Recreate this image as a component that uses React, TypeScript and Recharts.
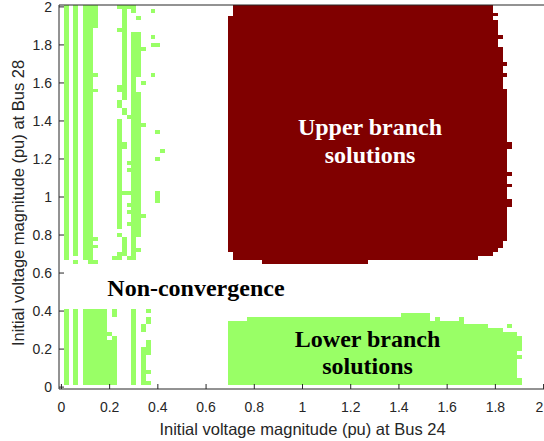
import { ReferenceArea, Scatter, ScatterChart, XAxis, YAxis } from "recharts"

// each cell block: [x1, x2, y1, y2] in pu
type Block = [number, number, number, number]

const axisTicks = [0, 0.2, 0.4, 0.6, 0.8, 1, 1.2, 1.4, 1.6, 1.8, 2]
const axisDomain: [number, number] = [-0.01, 2.01]

const upperBranchRows: Block[] = [
  [0.71, 1.79, 1.97, 2.01],
  [0.71, 1.81, 1.95, 1.97],
  [0.69, 1.79, 1.93, 1.95],
  [0.69, 1.81, 1.85, 1.93],
  [0.69, 1.83, 1.83, 1.85],
  [0.69, 1.81, 1.79, 1.83],
  [0.69, 1.83, 1.71, 1.79],
  [0.69, 1.85, 1.69, 1.71],
  [0.69, 1.83, 1.65, 1.69],
  [0.69, 1.85, 1.63, 1.65],
  [0.69, 1.83, 1.57, 1.63],
  [0.69, 1.85, 1.29, 1.57],
  [0.69, 1.87, 1.25, 1.29],
  [0.69, 1.85, 1.13, 1.25],
  [0.69, 1.87, 1.11, 1.13],
  [0.69, 1.85, 1.07, 1.11],
  [0.69, 1.87, 1.05, 1.07],
  [0.69, 1.85, 0.99, 1.05],
  [0.69, 1.87, 0.95, 0.99],
  [0.69, 1.85, 0.77, 0.95],
  [0.69, 1.83, 0.73, 0.77],
  [0.69, 1.81, 0.71, 0.73],
  [0.71, 1.79, 0.69, 0.71],
  [0.71, 1.73, 0.67, 0.69],
  [0.83, 1.27, 0.65, 0.67],
]

const lowerBranchRows: Block[] = [
  [1.41, 1.53, 0.37, 0.39],
  [0.77, 1.53, 0.35, 0.37],
  [1.55, 1.57, 0.35, 0.37],
  [1.65, 1.67, 0.35, 0.37],
  [0.69, 1.67, 0.33, 0.35],
  [0.69, 1.77, 0.31, 0.33],
  [1.85, 1.87, 0.31, 0.33],
  [0.69, 1.83, 0.29, 0.31],
  [0.69, 1.89, 0.27, 0.29],
  [0.69, 1.91, 0.19, 0.27],
  [0.69, 1.89, 0.17, 0.19],
  [0.69, 1.91, 0.15, 0.17],
  [0.69, 1.89, 0.05, 0.15],
  [0.69, 1.91, 0.01, 0.05],
]

// scattered lower-branch points at low Bus 24 voltage, upper half
const stripesHigh: Block[] = [
  [0.01, 0.03, 0.67, 2.01],
  [0.05, 0.07, 0.69, 2.01],
  [0.05, 0.07, 0.65, 0.67],
  [0.09, 0.13, 0.67, 2.01],
  [0.13, 0.15, 1.89, 2.01],
  [0.13, 0.15, 1.63, 1.65],
  [0.13, 0.15, 1.55, 1.57],
  [0.13, 0.15, 0.77, 0.79],
  [0.13, 0.15, 0.73, 0.75],
  [0.11, 0.15, 0.65, 0.67],
  [0.23, 0.31, 1.99, 2.01],
  [0.25, 0.27, 1.51, 1.99],
  [0.29, 0.31, 1.97, 1.99],
  [0.31, 0.33, 1.93, 1.95],
  [0.37, 0.39, 1.97, 1.99],
  [0.23, 0.25, 1.87, 1.89],
  [0.29, 0.31, 0.67, 1.87],
  [0.31, 0.33, 1.63, 1.87],
  [0.33, 0.35, 1.77, 1.79],
  [0.37, 0.39, 1.83, 1.85],
  [0.37, 0.41, 1.79, 1.81],
  [0.37, 0.39, 1.63, 1.65],
  [0.33, 0.35, 1.59, 1.61],
  [0.23, 0.25, 1.55, 1.59],
  [0.31, 0.33, 0.79, 1.55],
  [0.23, 0.25, 1.47, 1.51],
  [0.25, 0.27, 1.43, 1.47],
  [0.27, 0.29, 1.41, 1.43],
  [0.23, 0.25, 0.83, 1.41],
  [0.33, 0.35, 1.37, 1.39],
  [0.39, 0.41, 1.33, 1.35],
  [0.25, 0.27, 1.25, 1.29],
  [0.41, 0.43, 1.23, 1.25],
  [0.39, 0.41, 1.19, 1.21],
  [0.27, 0.29, 1.17, 1.19],
  [0.27, 0.29, 1.13, 1.15],
  [0.25, 0.29, 1.01, 1.03],
  [0.39, 0.41, 0.97, 1.03],
  [0.27, 0.29, 0.95, 0.97],
  [0.27, 0.29, 0.91, 0.93],
  [0.27, 0.29, 0.85, 0.87],
  [0.33, 0.35, 0.89, 0.91],
  [0.23, 0.25, 0.79, 0.81],
  [0.25, 0.27, 0.69, 0.79],
  [0.31, 0.33, 0.71, 0.73],
  [0.23, 0.25, 0.69, 0.71],
  [0.21, 0.25, 0.67, 0.69],
  [0.27, 0.29, 0.67, 0.69],
]

// same, lower half
const stripesLow: Block[] = [
  [0.01, 0.03, 0.01, 0.41],
  [0.05, 0.07, 0.01, 0.41],
  [0.09, 0.19, 0.29, 0.41],
  [0.09, 0.21, 0.27, 0.29],
  [0.09, 0.19, 0.25, 0.27],
  [0.21, 0.23, 0.25, 0.27],
  [0.09, 0.23, 0.01, 0.25],
  [0.21, 0.23, 0.37, 0.41],
  [0.29, 0.31, 0.01, 0.41],
  [0.35, 0.37, 0.39, 0.41],
  [0.35, 0.37, 0.33, 0.37],
  [0.33, 0.35, 0.29, 0.33],
  [0.35, 0.37, 0.21, 0.25],
  [0.33, 0.37, 0.17, 0.21],
  [0.33, 0.35, 0.01, 0.17],
  [0.35, 0.37, 0.07, 0.09],
  [0.35, 0.37, 0.01, 0.03],
]

const regionLabels = [
  { text: "Upper branch", x: 1.28, y: 1.368, color: "#ffffff" },
  { text: "solutions", x: 1.28, y: 1.221, color: "#ffffff" },
  { text: "Non-convergence", x: 0.558, y: 0.521, color: "#000000" },
  { text: "Lower branch", x: 1.27, y: 0.253, color: "#000000" },
  { text: "solutions", x: 1.27, y: 0.111, color: "#000000" },
]

const RED = "#800000"
const GREEN = "#99ff66"
const AXIS = "#262626"
const sansFont = "'Liberation Sans', Arial, Helvetica, sans-serif"
const serifFont = "'Liberation Serif', 'Times New Roman', serif"

const renderBlocks = (blocks: Block[], color: string, key: string) =>
  blocks.map(([x1, x2, y1, y2], i) => (
    <ReferenceArea
      key={`${key}-${i}`}
      x1={x1}
      x2={x2}
      y1={y1}
      y2={y2}
      fill={color}
      fillOpacity={1}
      stroke="none"
      shapeRendering="crispEdges"
      ifOverflow="hidden"
    />
  ))

function RegionText(props: any) {
  const { cx, cy, payload } = props
  return (
    <text
      x={cx}
      y={cy}
      textAnchor="middle"
      dominantBaseline="central"
      fill={payload.color}
      fontSize={24}
      fontWeight="bold"
      fontFamily={serifFont}
    >
      {payload.text}
    </text>
  )
}

// bottom tick label, kept inside the 544px frame at the right end
function XTick(props: any) {
  const { x, y, payload } = props
  const tx = Math.min(x, 539.5)
  return (
    <text x={tx} y={y} dy="0.71em" textAnchor="middle" fill={AXIS} fontSize={14} fontFamily={sansFont}>
      {payload.value}
    </text>
  )
}

function YTitle({ viewBox }: any) {
  const cx = viewBox.x + 18
  const cy = viewBox.y + viewBox.height / 2 + 6
  return (
    <text
      x={cx}
      y={cy}
      transform={`rotate(-90, ${cx}, ${cy})`}
      textAnchor="middle"
      dominantBaseline="central"
      fill={AXIS}
      fontSize={16.5}
      fontFamily={sansFont}
    >
      Initial voltage magnitude (pu) at Bus 28
    </text>
  )
}

export default function App() {
  const tickStyle = { fill: AXIS, fontSize: 14, fontFamily: sansFont }
  return (
    <div style={{ position: "absolute", left: 0, top: 0, width: 544, height: 441, overflow: "hidden", background: "#fff" }}>
      <ScatterChart width={548} height={441} margin={{ top: 4, right: 0, bottom: 0, left: 0 }}>
        {renderBlocks(upperBranchRows, RED, "up")}
        {renderBlocks(lowerBranchRows, GREEN, "low")}
        {renderBlocks(stripesHigh, GREEN, "sh")}
        {renderBlocks(stripesLow, GREEN, "sl")}
        <XAxis
          dataKey="x"
          type="number"
          domain={axisDomain}
          ticks={axisTicks}
          allowDataOverflow
          interval={0}
          height={52}
          tickSize={-5}
          tickMargin={18}
          tick={<XTick />}
          stroke={AXIS}
          label={{
            value: "Initial voltage magnitude (pu) at Bus 24",
            position: "insideBottom",
            offset: 6,
            fill: AXIS,
            fontSize: 16.5,
            fontFamily: sansFont,
          }}
        />
        <XAxis
          xAxisId="top"
          dataKey="x"
          orientation="top"
          type="number"
          domain={axisDomain}
          ticks={axisTicks}
          allowDataOverflow
          interval={0}
          height={1}
          tickSize={-5}
          tick={false}
          stroke={AXIS}
        />
        <YAxis
          dataKey="y"
          type="number"
          domain={axisDomain}
          ticks={axisTicks}
          allowDataOverflow
          interval={0}
          width={59}
          tickSize={-5}
          tickMargin={12}
          tick={tickStyle}
          stroke={AXIS}
          label={<YTitle />}
        />
        <YAxis
          yAxisId="right"
          dataKey="y"
          orientation="right"
          type="number"
          domain={axisDomain}
          ticks={axisTicks}
          allowDataOverflow
          interval={0}
          width={2}
          tickSize={-5}
          tick={false}
          stroke={AXIS}
        />
        <Scatter data={regionLabels} dataKey="y" shape={<RegionText />} isAnimationActive={false} />
      </ScatterChart>
    </div>
  )
}
